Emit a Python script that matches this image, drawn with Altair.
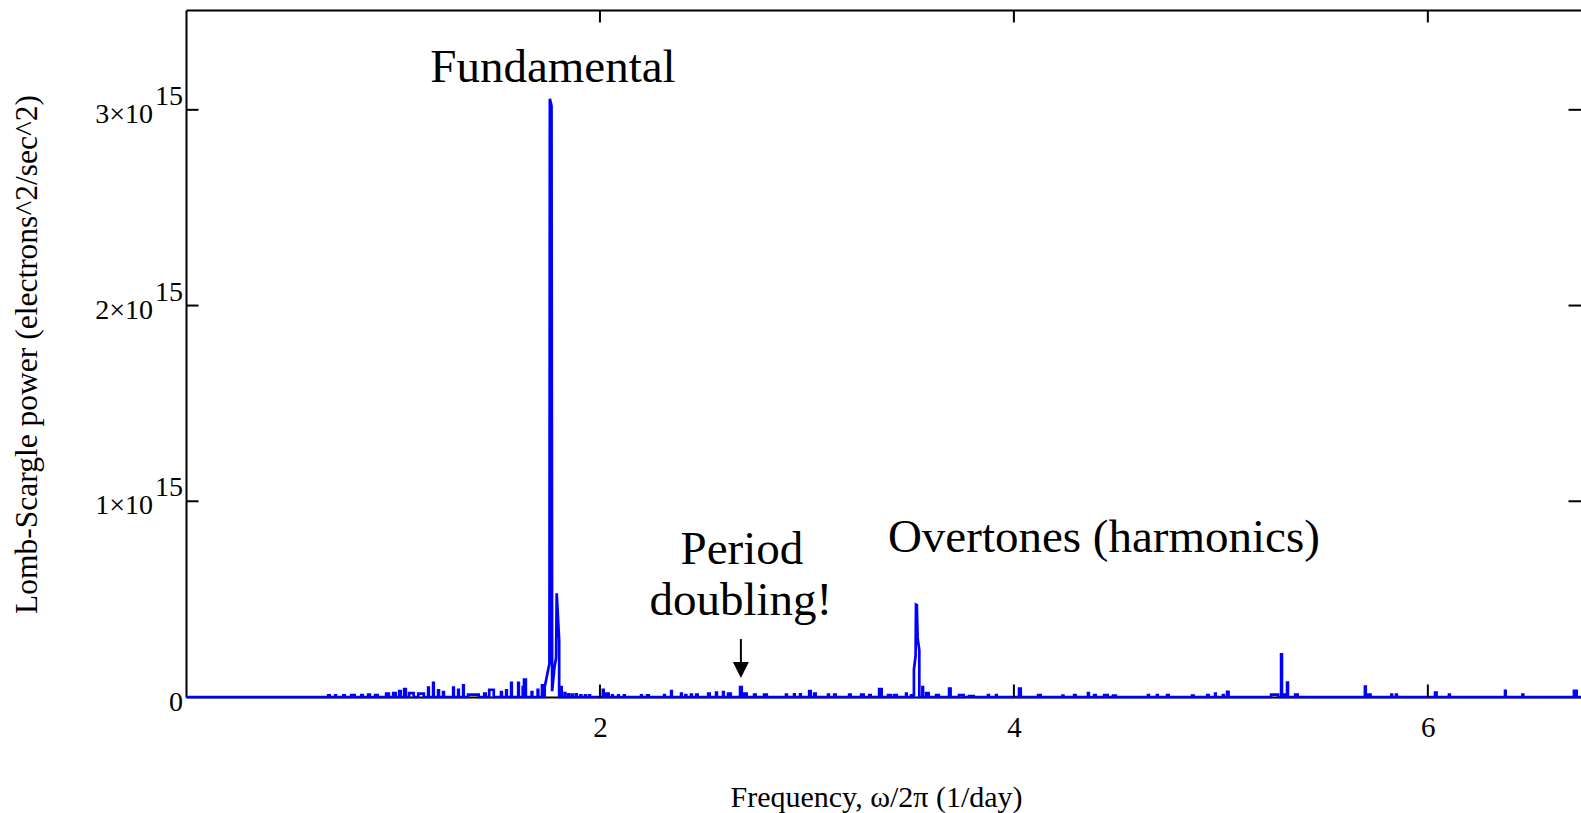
import altair as alt
import pandas as pd

# Lomb-Scargle periodogram of a pulsating star (power in units of 10^15)
# Narrow noise bumps: start frequency, end frequency, power
bump_lo = [0.687, 0.721, 0.760, 0.798, 0.847, 0.880, 0.914, 0.967, 1.001, 1.030,
           1.054, 1.078, 1.122, 1.170, 1.194, 1.218, 1.242, 1.291, 1.315, 1.339,
           1.363, 1.441, 1.465, 1.522, 1.547, 1.571, 1.605, 1.627, 1.633, 1.670,
           1.699, 1.720,
           1.811, 1.829, 1.847, 1.865, 1.884, 1.906, 1.928, 1.948, 2.014, 2.030,
           2.059, 2.088, 2.116, 2.199, 2.228, 2.310, 2.344, 2.392, 2.413, 2.440,
           2.465, 2.523, 2.561, 2.595, 2.619, 2.677, 2.697, 2.745, 2.793, 2.899,
           2.938, 2.967, 3.011, 3.035, 3.102, 3.132, 3.204, 3.262,
           3.301, 3.349, 3.392, 3.421, 3.479, 3.503,
           3.558, 3.576, 3.624, 3.687, 3.735, 3.784, 3.875, 3.914, 4.025, 4.117,
           4.235, 4.291, 4.358, 4.388, 4.436, 4.479, 4.648, 4.691, 4.740, 4.861,
           4.934, 4.972, 5.010, 5.030, 5.243, 5.291, 5.306, 5.320, 5.359, 5.696,
           5.711, 5.824, 5.846, 6.035, 6.102, 6.373, 6.457, 6.706]
bump_hi = [0.694, 0.724, 0.767, 0.815, 0.854, 0.888, 0.926, 0.980, 1.013, 1.037,
           1.062, 1.100, 1.149, 1.173, 1.197, 1.222, 1.246, 1.294, 1.318, 1.342,
           1.414, 1.448, 1.487, 1.526, 1.550, 1.574, 1.608, 1.631, 1.642, 1.673,
           1.702, 1.724,
           1.815, 1.833, 1.851, 1.869, 1.888, 1.910, 1.932, 1.952, 2.018, 2.042,
           2.062, 2.091, 2.120, 2.202, 2.236, 2.313, 2.347, 2.395, 2.417, 2.444,
           2.472, 2.530, 2.565, 2.598, 2.632, 2.685, 2.709, 2.752, 2.806, 2.903,
           2.941, 2.970, 3.018, 3.042, 3.106, 3.139, 3.211, 3.274,
           3.308, 3.361, 3.405, 3.434, 3.482, 3.507,
           3.561, 3.588, 3.637, 3.694, 3.757, 3.806, 3.879, 3.917, 4.033, 4.129,
           4.239, 4.298, 4.362, 4.395, 4.453, 4.492, 4.652, 4.695, 4.748, 4.868,
           4.941, 4.975, 5.014, 5.037, 5.276, 5.295, 5.309, 5.324, 5.371, 5.700,
           5.723, 5.827, 5.850, 6.042, 6.106, 6.376, 6.461, 6.719]
bump_pow = [0.008, 0.008, 0.008, 0.010, 0.010, 0.012, 0.010, 0.017, 0.020, 0.030,
            0.040, 0.020, 0.017, 0.048, 0.072, 0.034, 0.025, 0.048, 0.037, 0.060,
            0.012, 0.017, 0.037, 0.025, 0.034, 0.072, 0.072, 0.050, 0.089, 0.025,
            0.037, 0.060,
            0.050, 0.020, 0.014, 0.012, 0.014, 0.008, 0.008, 0.008, 0.037, 0.017,
            0.008, 0.008, 0.008, 0.008, 0.008, 0.010, 0.030, 0.017, 0.010, 0.012,
            0.012, 0.017, 0.022, 0.025, 0.017, 0.051, 0.017, 0.012, 0.012, 0.012,
            0.014, 0.014, 0.030, 0.017, 0.012, 0.012, 0.012, 0.012,
            0.010, 0.041, 0.010, 0.010, 0.017, 0.008,
            0.051, 0.020, 0.010, 0.043, 0.010, 0.005, 0.010, 0.010, 0.043, 0.010,
            0.007, 0.010, 0.020, 0.010, 0.010, 0.007, 0.010, 0.010, 0.010, 0.007,
            0.010, 0.017, 0.010, 0.026, 0.012, 0.218, 0.012, 0.073, 0.012, 0.053,
            0.012, 0.012, 0.012, 0.022, 0.012, 0.032, 0.012, 0.032]

# Fundamental mode and its close companion
fund_freq = [1.733, 1.733, 1.748, 1.756, 1.758, 1.766, 1.769, 1.780, 1.788, 1.791,
             1.795, 1.803, 1.803]
fund_pow = [0.0, 0.050, 0.130, 0.170, 3.056, 3.020, 0.030, 0.150, 0.200, 0.530,
            0.450, 0.290, 0.0]

# First overtone
over_freq = [3.517, 3.517, 3.525, 3.527, 3.531, 3.535, 3.543, 3.543]
over_pow = [0.0, 0.140, 0.210, 0.472, 0.470, 0.300, 0.240, 0.0]

x_ticks = [2, 4, 6]
y_ticks = [1, 2, 3]
y_mant = ["1×10", "2×10", "3×10"]

anno_text = ["Fundamental", "Period", "doubling!", "Overtones (harmonics)"]
anno_freq = [1.773, 2.686, 2.681, 4.435]
anno_pow = [3.144, 0.680, 0.419, 0.743]

arrow_freq = 2.681
arrow_top = 0.296
arrow_end = 0.160
arrow_head = 0.138

FREQ_MAX = 6.74
POW_MAX = 3.51
W, H = 1395, 687
SERIF = "Liberation Serif"

# assemble the spectrum polyline in frequency order
segments = [list(zip(fund_freq, fund_pow)), list(zip(over_freq, over_pow))]
for lo, hi, p in zip(bump_lo, bump_hi, bump_pow):
    segments.append([(lo, 0.0), (lo, p), (hi, p), (hi, 0.0)])
segments.sort(key=lambda s: s[0][0])
pts = [(0.0, 0.0)] + [pt for seg in segments for pt in seg] + [(FREQ_MAX, 0.0)]
spec = pd.DataFrame({
    "freq": [p[0] for p in pts],
    "power": [p[1] for p in pts],
    "i": list(range(len(pts))),
})

xs = alt.Scale(domain=[0, FREQ_MAX], nice=False, zero=False)
ys = alt.Scale(domain=[0, POW_MAX], nice=False, zero=False)

line = alt.Chart(spec).mark_line(color="#0000ff", strokeWidth=2.7).encode(
    x=alt.X("freq:Q", scale=xs, axis=alt.Axis(
        orient="bottom", values=x_ticks, format="d", ticks=False, grid=False,
        domain=True, domainColor="black", domainWidth=2,
        labelFont=SERIF, labelFontSize=29, labelColor="black", labelPadding=16,
        title="Frequency, ω/2π (1/day)", titleFont=SERIF, titleFontSize=30,
        titleFontWeight="normal", titleColor="black",
        titleX=690, titleY=100, titleBaseline="middle")),
    y=alt.Y("power:Q", scale=ys, axis=alt.Axis(
        orient="left", ticks=False, labels=False, grid=False,
        domain=True, domainColor="black", domainWidth=2,
        title="Lomb-Scargle power (electrons^2/sec^2)", titleFont=SERIF,
        titleFontSize=31.5, titleFontWeight="normal", titleColor="black",
        titleX=-159, titleY=344, titleBaseline="middle", titleAngle=-90)),
    order="i:Q",
)

xt = pd.DataFrame({"v": x_ticks})
yt = pd.DataFrame({"v": y_ticks, "mant": y_mant})

# inward tick marks on all four sides
top_ticks = alt.Chart(xt).mark_rule(color="black", strokeWidth=2).encode(
    x=alt.X("v:Q", scale=xs, axis=alt.Axis(
        orient="top", labels=False, ticks=False, grid=False, title=None,
        domain=True, domainColor="black", domainWidth=2)),
    y=alt.value(0), y2=alt.value(12.5),
)
bottom_ticks = alt.Chart(xt).mark_rule(color="black", strokeWidth=2).encode(
    x=alt.X("v:Q", scale=xs, axis=None),
    y=alt.value(H), y2=alt.value(H - 12.5),
)
left_ticks = alt.Chart(yt).mark_rule(color="black", strokeWidth=2).encode(
    y=alt.Y("v:Q", scale=ys, axis=None),
    x=alt.value(0), x2=alt.value(12.5),
)
right_ticks = alt.Chart(yt).mark_rule(color="black", strokeWidth=2).encode(
    y=alt.Y("v:Q", scale=ys, axis=None),
    x=alt.value(W), x2=alt.value(W - 12.5),
)

# y tick labels with a raised exponent
zero_lab = alt.Chart(pd.DataFrame({"v": [0], "t": ["0"]})).mark_text(
    font=SERIF, fontSize=28, align="right", baseline="alphabetic", dy=14, color="black"
).encode(y=alt.Y("v:Q", scale=ys, axis=None), x=alt.value(-3), text="t:N")
mant_lab = alt.Chart(yt).mark_text(
    font=SERIF, fontSize=28, align="right", baseline="alphabetic", dy=13, color="black"
).encode(y=alt.Y("v:Q", scale=ys, axis=None), x=alt.value(-33), text="mant:N")
exp_lab = alt.Chart(yt).mark_text(
    font=SERIF, fontSize=28, align="right", baseline="alphabetic", dy=-5, color="black"
).encode(y=alt.Y("v:Q", scale=ys, axis=None), x=alt.value(-3), text=alt.value("15"))

anno = alt.Chart(pd.DataFrame({"f": anno_freq, "p": anno_pow, "t": anno_text})).mark_text(
    font=SERIF, fontSize=47, align="center", baseline="alphabetic", color="black"
).encode(
    x=alt.X("f:Q", scale=xs, axis=None),
    y=alt.Y("p:Q", scale=ys, axis=None),
    text="t:N",
)

arrow_df = pd.DataFrame({"f": [arrow_freq], "p1": [arrow_top], "p2": [arrow_end], "ph": [arrow_head]})
arrow_shaft = alt.Chart(arrow_df).mark_rule(color="black", strokeWidth=2).encode(
    x=alt.X("f:Q", scale=xs, axis=None),
    y=alt.Y("p1:Q", scale=ys, axis=None),
    y2="p2:Q",
)
arrow_tip = alt.Chart(arrow_df).mark_point(
    shape="M-1,-1L1,-1L0,1Z", filled=True, color="black", size=256, opacity=1
).encode(
    x=alt.X("f:Q", scale=xs, axis=None),
    y=alt.Y("ph:Q", scale=ys, axis=None),
)

chart = alt.layer(
    line, top_ticks, bottom_ticks, left_ticks, right_ticks,
    zero_lab, mant_lab, exp_lab, anno, arrow_shaft, arrow_tip,
).resolve_axis(x="independent", y="independent").properties(
    width=W, height=H,
    autosize=alt.AutoSizeParams(type="none"),
    padding={"left": 186, "top": 10, "right": 0, "bottom": 116},
    background="white",
).configure_view(stroke=None)

chart.save("out.html", embed_options={"renderer": "svg", "actions": False})
